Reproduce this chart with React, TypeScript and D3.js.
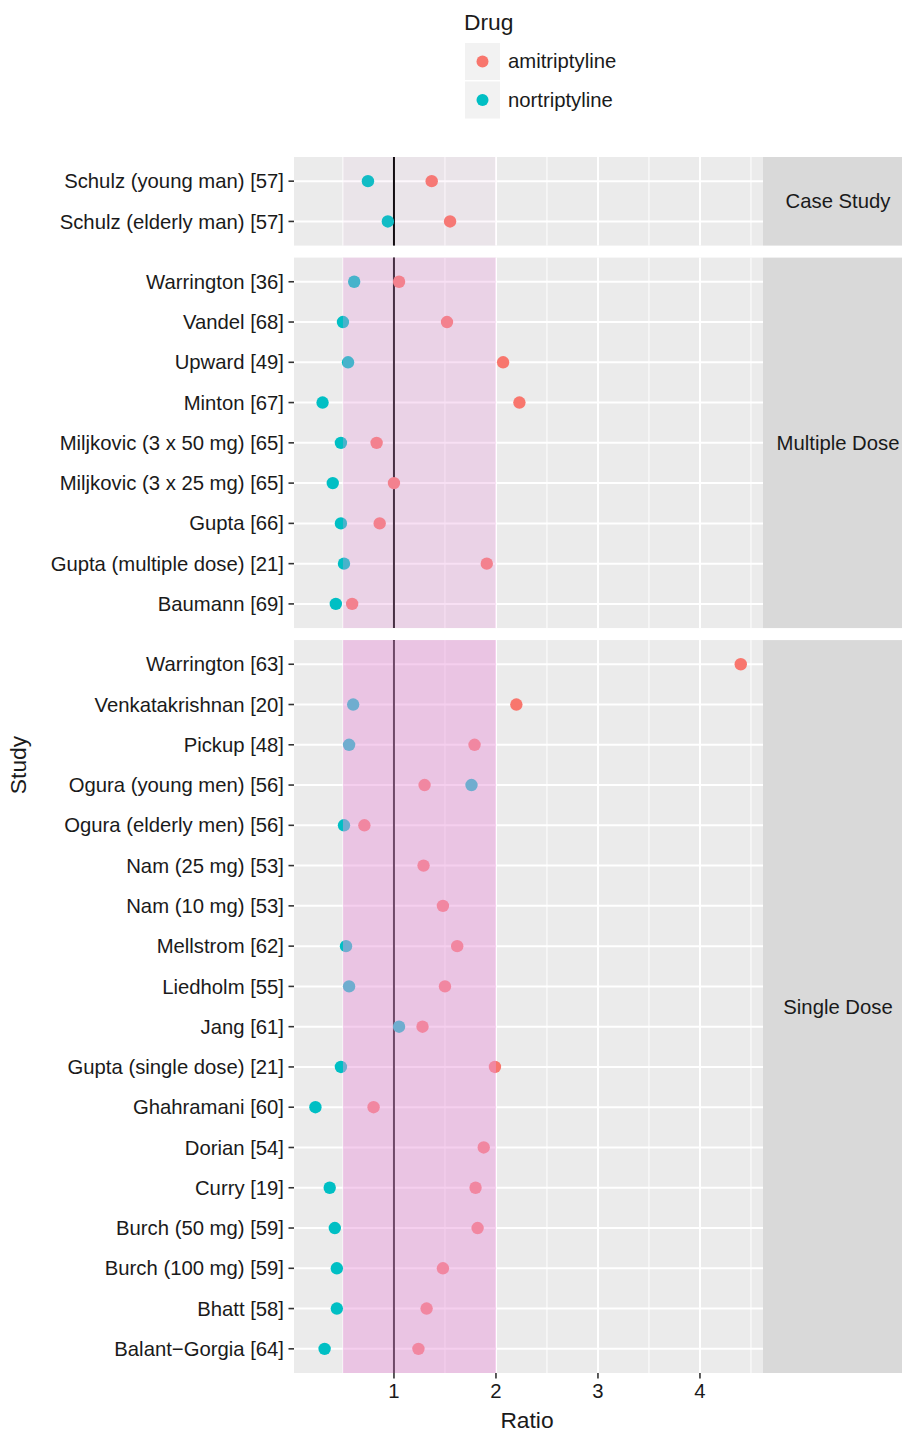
import React from "react";
import * as d3 from "d3";

// ---- data (top-to-bottom display order within each panel) ----
const panelNames = ["Case Study", "Multiple Dose", "Single Dose"];

const caseStudies = ["Schulz (young man) [57]", "Schulz (elderly man) [57]"];
const caseAmi: (number | null)[] = [1.37, 1.55];
const caseNort: (number | null)[] = [0.745, 0.94];

const multiStudies = [
  "Warrington [36]",
  "Vandel [68]",
  "Upward [49]",
  "Minton [67]",
  "Miljkovic (3 x 50 mg) [65]",
  "Miljkovic (3 x 25 mg) [65]",
  "Gupta [66]",
  "Gupta (multiple dose) [21]",
  "Baumann [69]",
];
const multiAmi: (number | null)[] = [1.05, 1.52, 2.07, 2.23, 0.83, 1.0, 0.86, 1.91, 0.59];
const multiNort: (number | null)[] = [0.61, 0.5, 0.55, 0.3, 0.48, 0.4, 0.48, 0.51, 0.43];

const singleStudies = [
  "Warrington [63]",
  "Venkatakrishnan [20]",
  "Pickup [48]",
  "Ogura (young men) [56]",
  "Ogura (elderly men) [56]",
  "Nam (25 mg) [53]",
  "Nam (10 mg) [53]",
  "Mellstrom [62]",
  "Liedholm [55]",
  "Jang [61]",
  "Gupta (single dose) [21]",
  "Ghahramani [60]",
  "Dorian [54]",
  "Curry [19]",
  "Burch (50 mg) [59]",
  "Burch (100 mg) [59]",
  "Bhatt [58]",
  "Balant\u2212Gorgia [64]",
];
const singleAmi: (number | null)[] = [
  4.4, 2.2, 1.79, 1.3, 0.71, 1.29, 1.48, 1.62, 1.5, 1.28, 1.99, 0.8, 1.88, 1.8, 1.82, 1.48, 1.32, 1.24,
];
const singleNort: (number | null)[] = [
  null, 0.6, 0.56, 1.76, 0.51, null, null, 0.53, 0.56, 1.05, 0.48, 0.23, null, 0.37, 0.42, 0.44, 0.44, 0.32,
];

const drugs = ["amitriptyline", "nortriptyline"];
const drugColors = ["#F8766D", "#00BFC4"];
const xTicks = [1, 2, 3, 4];
const xMinor = [0.5, 1.5, 2.5, 3.5, 4.5];
const bandRange = [0.5, 2];
const refLine = 1;
const xDomain = [0.02, 4.618];

const panels = [
  { name: panelNames[0], studies: caseStudies, ami: caseAmi, nort: caseNort },
  { name: panelNames[1], studies: multiStudies, ami: multiAmi, nort: multiNort },
  { name: panelNames[2], studies: singleStudies, ami: singleAmi, nort: singleNort },
];

const W = 902;
const H = 1432;
const FONT = "'Liberation Sans', Arial, Helvetica, sans-serif";

export default function App() {
  const left = 294;
  const right = 763;
  const stripRight = 902;
  const top = 157;
  const bottom = 1373;
  const gap = 12;
  const pad = 0.6;

  const totalUnits = d3.sum(panels, (p) => p.studies.length - 1 + 2 * pad);
  const unit = (bottom - top - gap * (panels.length - 1)) / totalUnits;

  const x = d3.scaleLinear().domain(xDomain).range([left, right]);

  let cursor = top;
  const layouts = panels.map((p) => {
    const h = (p.studies.length - 1 + 2 * pad) * unit;
    const y = d3.scalePoint<string>().domain(p.studies).range([cursor, cursor + h]).padding(pad);
    const l = { ...p, y0: cursor, y1: cursor + h, y };
    cursor += h + gap;
    return l;
  });

  const textCol = "#1a1a1a";
  const axisFs = 20.3;
  const titleFs = 22.8;

  return (
    <svg
      width={W}
      height={H}
      style={{ position: "absolute", left: 0, top: 0, background: "#fff" }}
      fontFamily={FONT}
    >
      {/* legend */}
      <text x={464} y={30} fontSize={titleFs} fill={textCol}>
        Drug
      </text>
      {drugs.map((d, i) => (
        <g key={d}>
          <rect x={465} y={43 + i * 38.5} width={35} height={37} fill="#F2F2F2" />
          <circle cx={482.5} cy={61.5 + i * 38.5} r={6} fill={drugColors[i]} />
          <text x={508} y={68 + i * 38.5} fontSize={axisFs} fill={textCol}>
            {d}
          </text>
        </g>
      ))}

      {layouts.map((p) => {
        const nRows =
          p.ami.filter((v) => v != null).length + p.nort.filter((v) => v != null).length;
        const bandOpacity = 1 - Math.pow(0.98, nRows);
        return (
          <g key={p.name}>
            <rect x={left} y={p.y0} width={right - left} height={p.y1 - p.y0} fill="#EBEBEB" />
            {xMinor.map((t) => (
              <line key={"m" + t} x1={x(t)} x2={x(t)} y1={p.y0} y2={p.y1} stroke="#fff" strokeWidth={1} />
            ))}
            {xTicks.map((t) => (
              <line key={"M" + t} x1={x(t)} x2={x(t)} y1={p.y0} y2={p.y1} stroke="#fff" strokeWidth={2} />
            ))}
            {p.studies.map((s) => (
              <line key={s} x1={left} x2={right} y1={p.y(s)!} y2={p.y(s)!} stroke="#fff" strokeWidth={2} />
            ))}
            <line x1={x(refLine)} x2={x(refLine)} y1={p.y0} y2={p.y1} stroke="#000" strokeWidth={2} />
            {p.studies.map((s, i) => (
              <g key={"pt" + s}>
                {p.ami[i] != null && <circle cx={x(p.ami[i]!)} cy={p.y(s)!} r={6.2} fill={drugColors[0]} />}
                {p.nort[i] != null && <circle cx={x(p.nort[i]!)} cy={p.y(s)!} r={6.2} fill={drugColors[1]} />}
              </g>
            ))}
            <rect
              x={x(bandRange[0])}
              y={p.y0}
              width={x(bandRange[1]) - x(bandRange[0])}
              height={p.y1 - p.y0}
              fill="#E999DC"
              fillOpacity={bandOpacity}
            />
            {/* strip */}
            <rect x={right} y={p.y0} width={stripRight - right} height={p.y1 - p.y0} fill="#D9D9D9" />
            <text
              x={838}
              y={(p.y0 + p.y1) / 2}
              dy="0.35em"
              textAnchor="middle"
              fontSize={axisFs}
              fill={textCol}
            >
              {p.name}
            </text>
            {/* y axis */}
            {p.studies.map((s) => (
              <g key={"ax" + s}>
                <line x1={288.5} x2={294} y1={p.y(s)!} y2={p.y(s)!} stroke="#333" strokeWidth={1.6} />
                <text x={284} y={p.y(s)!} dy="0.35em" textAnchor="end" fontSize={axisFs} fill={textCol}>
                  {s}
                </text>
              </g>
            ))}
          </g>
        );
      })}

      {/* x axis */}
      {xTicks.map((t) => (
        <g key={"xt" + t}>
          <line x1={x(t)} x2={x(t)} y1={bottom} y2={bottom + 5.5} stroke="#333" strokeWidth={1.6} />
          <text x={x(t)} y={1398} textAnchor="middle" fontSize={axisFs} fill={textCol}>
            {t}
          </text>
        </g>
      ))}
      <text x={527} y={1428} textAnchor="middle" fontSize={titleFs} fill={textCol}>
        Ratio
      </text>
      <text
        transform={`translate(26, ${(top + bottom) / 2}) rotate(-90)`}
        textAnchor="middle"
        fontSize={titleFs}
        fill={textCol}
      >
        Study
      </text>
    </svg>
  );
}
